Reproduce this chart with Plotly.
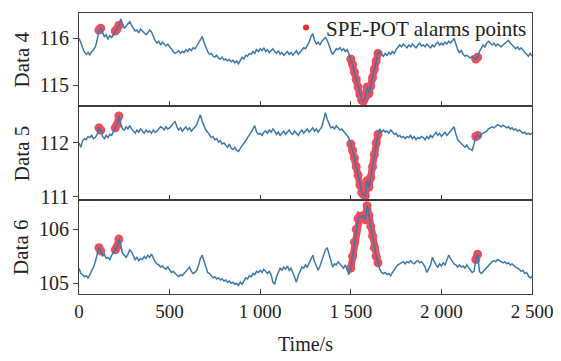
import plotly.graph_objects as go
from plotly.subplots import make_subplots

# ---------------- data ----------------
time_step = 10
time_end = 2500

data4 = [
    116.00, 115.92, 115.80, 115.70, 115.66, 115.70, 115.64, 115.72, 115.76, 115.82,
    115.96, 116.18, 116.22, 116.12, 116.04, 116.08, 115.98, 116.06, 116.02, 116.08,
    116.16, 116.20, 116.28, 116.42, 116.30, 116.22, 116.26, 116.30, 116.36, 116.28,
    116.22, 116.16, 116.18, 116.12, 116.20, 116.16, 116.10, 116.08, 116.12, 116.18,
    116.14, 116.04, 115.96, 115.90, 115.94, 115.86, 115.92, 115.88, 115.84, 115.88,
    115.82, 115.76, 115.72, 115.68, 115.70, 115.74, 115.68, 115.72, 115.70, 115.76,
    115.72, 115.78, 115.74, 115.80, 115.78, 115.84, 115.90, 115.96, 116.04, 115.92,
    115.80, 115.72, 115.66, 115.68, 115.62, 115.60, 115.64, 115.58, 115.56, 115.60,
    115.54, 115.56, 115.52, 115.55, 115.50, 115.53, 115.48, 115.52, 115.46, 115.54,
    115.60, 115.56, 115.64, 115.62, 115.68, 115.66, 115.72, 115.68, 115.76, 115.72,
    115.78, 115.74, 115.80, 115.72, 115.76, 115.70, 115.74, 115.78, 115.72, 115.68,
    115.74, 115.66, 115.70, 115.64, 115.68, 115.72, 115.66, 115.70, 115.64, 115.68,
    115.74, 115.66, 115.70, 115.76, 115.80, 115.78, 115.84, 115.92, 116.04, 116.10,
    115.96, 115.88, 115.92, 115.86, 115.94, 115.98, 116.02, 115.96, 115.84, 115.74,
    115.66, 115.72, 115.78, 115.76, 115.80, 115.74, 115.78, 115.72, 115.76, 115.66,
    115.56, 115.44, 115.28, 115.12, 114.96, 114.80, 114.68, 114.66, 114.74, 114.96,
    114.82, 114.98, 115.16, 115.34, 115.52, 115.68, 115.72, 115.66, 115.62, 115.68,
    115.64, 115.70, 115.66, 115.72, 115.68, 115.76, 115.80, 115.86, 115.82, 115.88,
    115.84, 115.80, 115.86, 115.82, 115.88, 115.84, 115.80, 115.86, 115.90, 115.84,
    115.86, 115.82, 115.88, 115.84, 115.80, 115.86, 115.82, 115.88, 115.92, 115.86,
    115.90, 115.86, 115.92, 115.88, 115.94, 115.90, 115.96, 116.00, 115.88, 115.76,
    115.70, 115.74, 115.66, 115.62, 115.64, 115.60, 115.58, 115.62, 115.56, 115.56,
    115.60, 115.72, 115.78, 115.86, 115.82, 115.90, 115.94, 115.90, 115.86, 115.90,
    115.84, 115.88, 115.84, 115.82, 115.86, 115.90, 115.94, 115.96, 115.90, 115.86,
    115.82, 115.78, 115.82, 115.76, 115.80, 115.74, 115.70, 115.66, 115.62, 115.68,
    115.62,
]

data5 = [
    112.00, 111.92, 112.04, 112.08, 112.06, 112.12, 112.10, 112.14, 112.08, 112.10,
    112.16, 112.28, 112.24, 112.12, 112.08, 112.14, 112.10, 112.16, 112.14, 112.22,
    112.28, 112.34, 112.50, 112.36, 112.26, 112.24, 112.30, 112.26, 112.32, 112.26,
    112.22, 112.18, 112.24, 112.20, 112.26, 112.22, 112.18, 112.24, 112.20, 112.22,
    112.18, 112.24, 112.20, 112.22, 112.26, 112.30, 112.28, 112.24, 112.30, 112.26,
    112.28, 112.32, 112.36, 112.40, 112.30, 112.24, 112.28, 112.22, 112.26, 112.30,
    112.24, 112.28, 112.22, 112.26, 112.30, 112.34, 112.44, 112.52, 112.40, 112.30,
    112.24, 112.20, 112.14, 112.10, 112.12, 112.06, 112.08, 112.02, 112.04, 111.98,
    112.00, 111.96, 111.92, 111.98, 111.90, 111.88, 111.92, 111.86, 111.84, 111.90,
    111.94, 111.98, 112.04, 112.10, 112.14, 112.20, 112.26, 112.32, 112.20, 112.16,
    112.18, 112.14, 112.20, 112.22, 112.18, 112.24, 112.20, 112.26, 112.22, 112.16,
    112.20, 112.14, 112.18, 112.22, 112.16, 112.20, 112.24, 112.18, 112.16, 112.22,
    112.18, 112.14, 112.20, 112.24, 112.18, 112.22, 112.26, 112.20, 112.24, 112.28,
    112.22, 112.26, 112.20, 112.24, 112.30, 112.42, 112.56, 112.44, 112.34, 112.28,
    112.30, 112.26, 112.32, 112.28, 112.24, 112.26, 112.22, 112.20, 112.14, 112.08,
    111.98, 111.86, 111.72, 111.56, 111.40, 111.22, 111.08, 111.04, 111.02, 111.30,
    111.18, 111.36, 111.56, 111.78, 112.00, 112.16, 112.26, 112.20, 112.24, 112.20,
    112.22, 112.18, 112.24, 112.20, 112.16, 112.18, 112.12, 112.14, 112.10, 112.12,
    112.08, 112.12, 112.10, 112.14, 112.08, 112.12, 112.06, 112.10, 112.08, 112.12,
    112.10, 112.06, 112.12, 112.08, 112.14, 112.10, 112.16, 112.20, 112.14, 112.18,
    112.12, 112.16, 112.20, 112.14, 112.18, 112.22, 112.24, 112.30, 112.16, 112.06,
    112.02, 111.98, 111.96, 111.92, 111.96, 111.90, 111.88, 111.86, 111.98, 112.12,
    112.14, 112.10, 112.16, 112.18, 112.20, 112.22, 112.26, 112.28, 112.30, 112.28,
    112.32, 112.34, 112.32, 112.30, 112.33, 112.30, 112.28, 112.30, 112.26, 112.28,
    112.24, 112.26, 112.22, 112.24, 112.20, 112.18, 112.20, 112.16, 112.18, 112.16,
    112.18,
]

data6 = [
    105.28, 105.18, 105.16, 105.12, 105.14, 105.10, 105.16, 105.22, 105.30, 105.40,
    105.52, 105.66, 105.60, 105.50, 105.54, 105.46, 105.48, 105.44, 105.52, 105.56,
    105.62, 105.68, 105.82, 105.72, 105.56, 105.52, 105.48, 105.54, 105.62, 105.58,
    105.50, 105.44, 105.48, 105.42, 105.46, 105.44, 105.50, 105.46, 105.52, 105.48,
    105.54, 105.46, 105.40, 105.36, 105.34, 105.30, 105.32, 105.28, 105.26, 105.30,
    105.24, 105.20, 105.22, 105.18, 105.16, 105.12, 105.16, 105.14, 105.18, 105.22,
    105.26, 105.30, 105.22, 105.18, 105.20, 105.24, 105.34, 105.46, 105.52, 105.40,
    105.28, 105.20, 105.18, 105.14, 105.10, 105.12, 105.08, 105.10, 105.06, 105.08,
    105.04, 105.06, 105.02, 105.04, 105.00, 105.02, 104.98, 105.00, 104.96, 105.02,
    104.98, 105.04, 105.10, 105.08, 105.14, 105.12, 105.18, 105.16, 105.22, 105.20,
    105.24, 105.20, 105.26, 105.22, 105.18, 105.22, 105.16, 105.02, 104.98, 105.12,
    105.22, 105.28, 105.24, 105.30, 105.26, 105.32, 105.24, 105.28, 105.20, 105.10,
    105.02, 105.14, 105.24, 105.30, 105.28, 105.34, 105.30, 105.38, 105.44, 105.52,
    105.40, 105.30, 105.24, 105.32, 105.42, 105.50, 105.62, 105.66, 105.52, 105.40,
    105.30, 105.36, 105.34, 105.40, 105.36, 105.32, 105.28, 105.34, 105.26, 105.16,
    105.28, 105.50, 105.76, 106.00, 106.20, 106.24, 106.22, 106.26, 106.18, 106.44,
    106.26, 106.06, 105.88, 105.66, 105.50, 105.38, 105.26, 105.20, 105.18, 105.20,
    105.16, 105.18, 105.14, 105.20, 105.26, 105.30, 105.34, 105.36, 105.38, 105.40,
    105.36, 105.40, 105.38, 105.42, 105.38, 105.36, 105.40, 105.42, 105.38, 105.40,
    105.36, 105.30, 105.20, 105.28, 105.34, 105.48, 105.40, 105.34, 105.30, 105.36,
    105.32, 105.38, 105.34, 105.44, 105.52, 105.46, 105.40, 105.36, 105.34, 105.30,
    105.34, 105.30, 105.32, 105.28, 105.34, 105.30, 105.26, 105.20, 105.22, 105.44,
    105.54, 105.22, 105.18, 105.22, 105.26, 105.28, 105.32, 105.36, 105.40, 105.42,
    105.40, 105.44, 105.42, 105.40, 105.38, 105.40, 105.36, 105.38, 105.34, 105.36,
    105.32, 105.30, 105.28, 105.26, 105.22, 105.24, 105.18, 105.20, 105.14, 105.10,
    105.12,
]

# alarm windows (start, end) in seconds
alarm_windows = [(110, 120), (200, 220), (1500, 1650), (2190, 2200)]

series_names = ["Data 4", "Data 5", "Data 6"]
y_ranges = [[114.545, 116.545], [110.933, 112.678], [104.80, 106.538]]
y_ticks = [[115, 116], [111, 112], [105, 106]]
x_tick_vals = [0, 500, 1000, 1500, 2000, 2500]
x_tick_text = ["0", "500", "1 000", "1 500", "2 000", "2 500"]
legend_label = "SPE-POT alarms points"
x_title = "Time/s"

# ---------------- figure ----------------
times = list(range(0, time_end + 1, time_step))
all_series = [data4, data5, data6]

FONT = "Liberation Serif"
LINE_COLOR = "#3b79ab"
RED = "rgb(228,30,50)"
AXIS = "#3c3c3c"
TXT = "#222222"

fig = make_subplots(rows=3, cols=1, shared_xaxes=True, vertical_spacing=0)

for i, ys in enumerate(all_series):
    ax, ay = [], []
    for a, b in alarm_windows:
        for t in times:
            if a <= t <= b:
                ax.append(t)
                ay.append(ys[times.index(t)])
        ax.append(None)
        ay.append(None)
    # dense alarm points: markers plus a band joining consecutive alarm samples
    fig.add_trace(go.Scatter(
        x=ax, y=ay, mode="lines+markers", opacity=0.78,
        line=dict(color=RED, width=7),
        marker=dict(color=RED, size=9, line=dict(width=0)),
        name=legend_label, showlegend=False, connectgaps=False, hoverinfo="skip"),
        row=i + 1, col=1)
    fig.add_trace(go.Scatter(
        x=times, y=ys, mode="lines",
        line=dict(color=LINE_COLOR, width=1.5),
        showlegend=False, hoverinfo="skip"),
        row=i + 1, col=1)

# legend-only entry with a small dot
fig.add_trace(go.Scatter(
    x=[None], y=[None], mode="markers",
    marker=dict(color="#ee2a2a", size=6),
    name=legend_label, showlegend=True), row=1, col=1)

domains = [[0.6676, 1.0], [0.333, 0.6676], [0.0, 0.333]]
for i in range(3):
    r = i + 1
    fig.update_yaxes(
        row=r, col=1, domain=domains[i], range=y_ranges[i], automargin=False,
        tickvals=y_ticks[i], ticks="outside", ticklen=5, tickwidth=1,
        tickcolor=AXIS, showline=True, mirror=True, linecolor=AXIS, linewidth=1,
        showgrid=False, zeroline=False,
        tickfont=dict(family=FONT, size=20, color=TXT),
        title=dict(text=series_names[i], font=dict(family=FONT, size=21, color=TXT), standoff=4),
    )
    fig.update_xaxes(
        row=r, col=1, range=[0, 2500], tickvals=x_tick_vals, ticktext=x_tick_text,
        ticks="inside", ticklen=5, tickwidth=1, tickcolor=AXIS, automargin=False,
        showline=True, mirror=True, linecolor=AXIS, linewidth=1,
        showgrid=False, zeroline=False, showticklabels=(r == 3),
        tickfont=dict(family=FONT, size=19, color=TXT),
    )

fig.update_xaxes(row=3, col=1, title=dict(text=x_title, font=dict(family=FONT, size=20, color=TXT), standoff=16))

fig.update_layout(
    width=561, height=361,
    margin=dict(l=79, r=29, t=7, b=67),
    paper_bgcolor="white", plot_bgcolor="white",
    font=dict(family=FONT, color=TXT),
    showlegend=True,
    legend=dict(x=1.0, y=1.02, xanchor="right", yanchor="top",
                bgcolor="rgba(0,0,0,0)", borderwidth=0,
                font=dict(family=FONT, size=21, color=TXT),
                itemwidth=30, tracegroupgap=0),
)

fig.write_html("out.html")
